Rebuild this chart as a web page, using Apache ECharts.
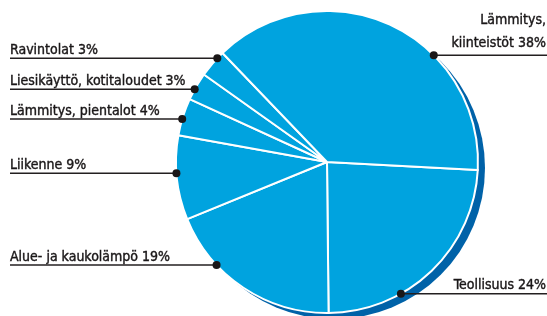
<!DOCTYPE html>
<html>
<head>
<meta charset="utf-8">
<script src="https://cdn.jsdelivr.net/npm/echarts@6/dist/echarts.min.js"></script>
<style>
  html, body { margin: 0; padding: 0; background: #fff; }
  #chart { width: 547px; height: 316px; }
</style>
</head>
<body>
<div id="chart"></div>
<script>
// data, clockwise from about 3 o'clock
const categories = [
  "Teollisuus",
  "Alue- ja kaukolämpö",
  "Liikenne",
  "Lämmitys, pientalot",
  "Liesikäyttö, kotitaloudet",
  "Ravintolat",
  "Lämmitys,\nkiinteistöt"
];
const shares = [24, 19, 9, 4, 3, 3, 38];

// label layout: where the dot sits on the rim (deg, clockwise from 3 o'clock) and which side the text goes
const anchorAngles = [60.7, 137, 175.7, 196.5, 208.8, 223.4, 315];
const labelSide = ["right", "left", "left", "left", "left", "left", "right"];

const CX = 327, CY = 162, R = 151;
const FONT = "'DejaVu Sans Condensed', 'Liberation Sans Narrow', sans-serif";

function anchor(i) {
  const a = anchorAngles[i] * Math.PI / 180;
  return [CX + R * Math.cos(a), CY + R * Math.sin(a)];
}

const chart = echarts.init(document.getElementById("chart"), null, { renderer: "canvas" });

const dots = anchorAngles.map((a, i) => {
  const p = anchor(i);
  return {
    type: "circle",
    shape: { cx: p[0], cy: p[1], r: 4 },
    style: { fill: "#1a1718" },
    z: 100
  };
});

const option = {
  animation: false,
  backgroundColor: "#fff",
  graphic: dots,
  series: [
    {
      // drop shadow disc
      type: "pie",
      silent: true,
      center: [CX + 7, CY + 6],
      radius: R,
      label: { show: false },
      labelLine: { show: false },
      itemStyle: { color: "#0062a8" },
      data: [{ value: 1, name: "" }],
      z: 1
    },
    {
      type: "pie",
      center: [CX, CY],
      radius: R,
      startAngle: -3,
      clockwise: true,
      avoidLabelOverlap: false,
      z: 2,
      itemStyle: { color: "#00a3df", borderColor: "#fff", borderWidth: 2 },
      label: {
        show: true,
        position: "outer",
        alignTo: "none",
        formatter: (p) => p.name + " " + p.value + "%",
        fontFamily: FONT,
        fontSize: 14,
        lineHeight: 16,
        color: "#1a1718",
        textBorderColor: "#1a1718",
        textBorderWidth: 0.4
      },
      labelLine: {
        show: true,
        lineStyle: { color: "#231f20", width: 1.5 }
      },
      labelLayout: (params) => {
        const i = params.dataIndex;
        const p = anchor(i);
        if (labelSide[i] === "left") {
          return {
            x: 10,
            y: p[1],
            align: "left",
            verticalAlign: "bottom",
            labelLinePoints: [[p[0], p[1]], [p[0], p[1]], [10, p[1]]]
          };
        }
        return {
          x: 546,
          y: p[1],
          align: "right",
          verticalAlign: "bottom",
          labelLinePoints: [[p[0], p[1]], [p[0], p[1]], [547, p[1]]]
        };
      },
      data: categories.map((c, i) => ({
        name: c,
        value: shares[i],
        label: c.indexOf("\n") >= 0 ? { lineHeight: 23 } : undefined
      }))
    }
  ]
};

chart.setOption(option);
</script>
</body>
</html>
